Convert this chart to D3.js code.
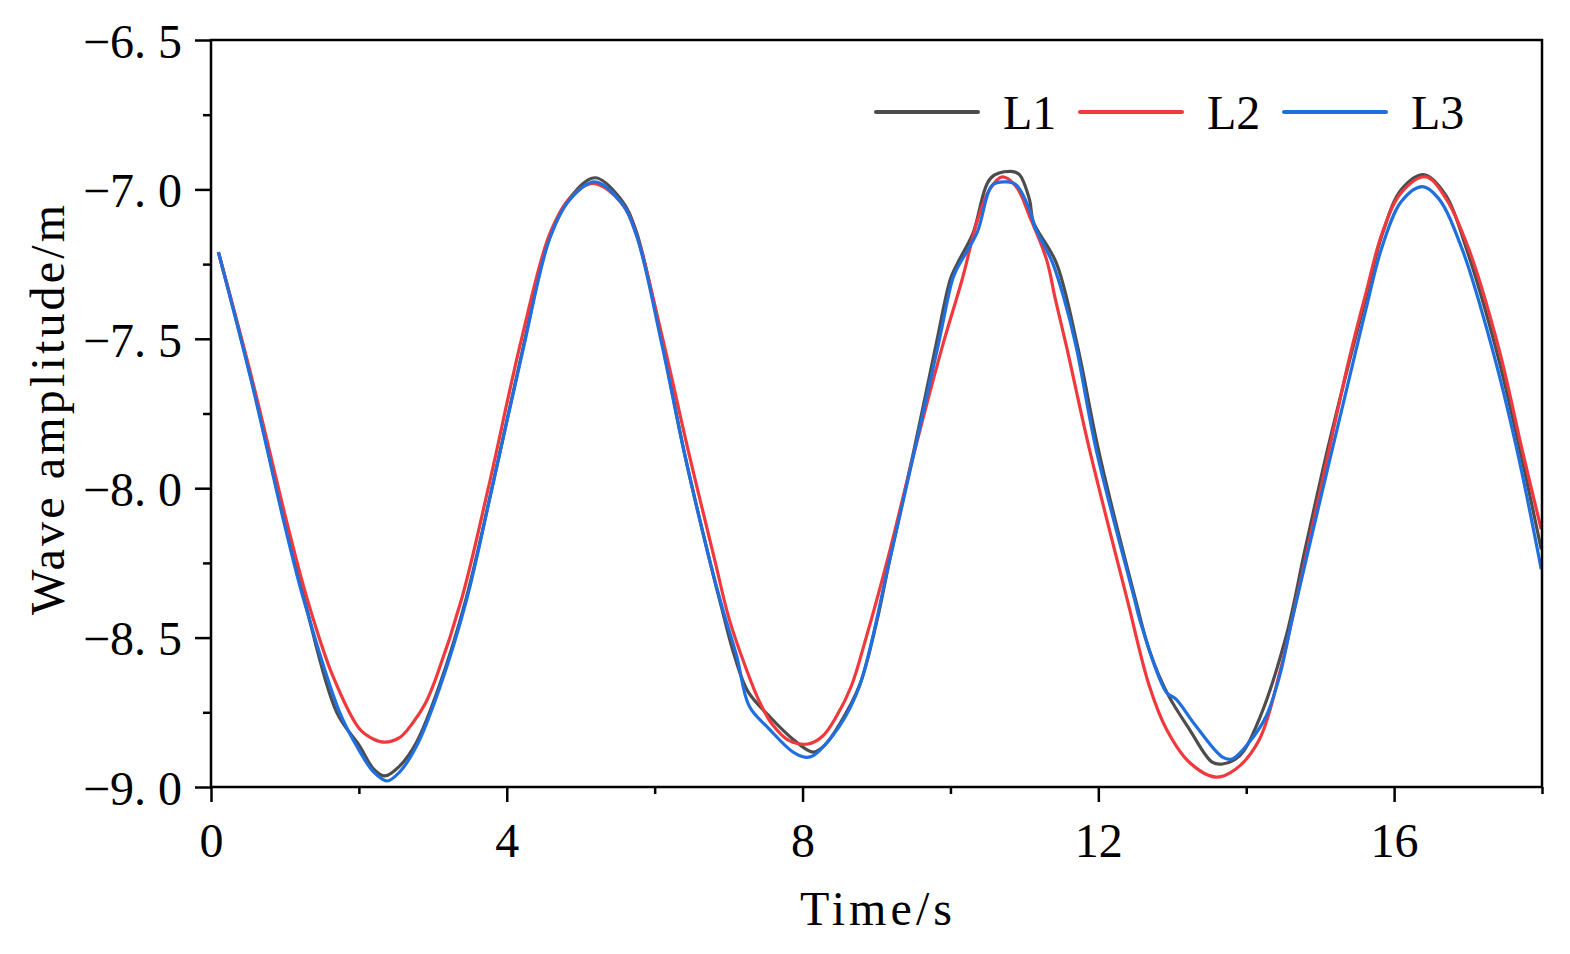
<!DOCTYPE html>
<html>
<head>
<meta charset="utf-8">
<script src="https://cdn.jsdelivr.net/npm/d3@7"></script>
<style>
  body { margin: 0; background: #fff; }
  text { font-family: "Liberation Serif", "Times New Roman", serif; fill: #000; }
</style>
</head>
<body>
<div id="chart"></div>
<script>
// L1
const t1 = [0.1, 0.54, 1.01, 1.25, 1.70, 2.01, 2.2, 2.35, 2.55, 2.78, 3.09, 3.45, 3.80, 4.22, 4.58, 4.85, 5.19,
  5.55, 5.75, 6.09, 6.40, 6.74, 6.91, 7.08, 7.26, 7.55, 7.87, 8.14, 8.30, 8.50, 8.77, 9.0, 9.18, 9.5, 9.80,
  10.0, 10.1, 10.3, 10.55, 10.82, 10.93, 11.07, 11.12, 11.43, 11.72, 12.0, 12.5, 12.7, 12.94, 13.23, 13.54,
  13.68, 13.91, 14.18, 14.54, 14.8, 15.1, 15.39, 15.62, 15.84, 16.1, 16.41, 16.7, 16.98, 17.38, 17.70, 17.99];
const v1 = [-7.21, -7.63, -8.13, -8.36, -8.75, -8.863, -8.94, -8.963, -8.93, -8.85, -8.66, -8.37, -8.0, -7.53, -7.16, -7.03, -6.961,
  -7.035, -7.14, -7.50, -7.88, -8.238, -8.405, -8.562, -8.68, -8.763, -8.84, -8.883, -8.86, -8.79, -8.66, -8.45, -8.238, -7.88, -7.526,
  -7.30, -7.245, -7.15, -6.961, -6.94, -6.95, -7.035, -7.108, -7.245, -7.526, -7.87, -8.37, -8.55, -8.69, -8.806, -8.917,
  -8.923, -8.896, -8.77, -8.495, -8.20, -7.87, -7.58, -7.36, -7.15, -7.0, -6.951, -7.02, -7.20, -7.536, -7.87, -8.205];

// L2
const t2 = [0.1, 0.54, 1.05, 1.30, 1.65, 2.01, 2.2, 2.35, 2.55, 2.73, 2.9, 3.05, 3.39, 3.75, 4.2, 4.58, 4.85, 5.17,
  5.55, 5.75, 6.09, 6.45, 6.81, 7.01, 7.24, 7.42, 7.59, 7.82, 8.07, 8.27, 8.46, 8.66, 8.86, 9.15, 9.5, 9.89,
  10.16, 10.37, 10.53, 10.70, 10.89, 11.07, 11.30, 11.42, 11.57, 11.88, 12.39, 12.69, 12.92, 13.23, 13.59,
  13.86, 14.18, 14.45, 14.7, 15.0, 15.39, 15.62, 15.84, 16.1, 16.43, 16.7, 17.01, 17.42, 17.73, 17.99];
const v2 = [-7.21, -7.62, -8.138, -8.37, -8.63, -8.806, -8.84, -8.85, -8.835, -8.785, -8.72, -8.63, -8.37, -8.0, -7.50, -7.15, -7.03, -6.98,
  -7.045, -7.15, -7.48, -7.87, -8.238, -8.44, -8.606, -8.716, -8.79, -8.845, -8.856, -8.83, -8.763, -8.662, -8.50, -8.238, -7.89, -7.526,
  -7.30, -7.10, -7.0, -6.958, -6.991, -7.09, -7.235, -7.369, -7.526, -7.87, -8.372, -8.662, -8.806, -8.917, -8.967,
  -8.94, -8.84, -8.62, -8.35, -8.01, -7.57, -7.346, -7.145, -7.01, -6.958, -7.03, -7.20, -7.536, -7.87, -8.138];

// L3
const t3 = [0.1, 0.54, 1.01, 1.25, 1.74, 2.01, 2.2, 2.38, 2.55, 2.78, 3.09, 3.46, 3.80, 4.22, 4.58, 4.85, 5.19,
  5.55, 5.75, 6.09, 6.40, 6.74, 6.92, 7.11, 7.28, 7.55, 7.87, 8.03, 8.14, 8.50, 8.77, 9.18, 9.5, 9.83,
  10.03, 10.1, 10.36, 10.57, 10.76, 10.89, 11.07, 11.14, 11.38, 11.54, 11.70, 11.97, 12.49, 12.56, 12.92, 13.05,
  13.32, 13.68, 13.81, 14.04, 14.27, 14.45, 14.62, 15.0, 15.39, 15.62, 15.84, 16.1, 16.38, 16.6, 16.92, 17.33, 17.66, 17.99];
const v3 = [-7.21, -7.636, -8.138, -8.37, -8.75, -8.88, -8.95, -8.98, -8.95, -8.863, -8.67, -8.37, -8.0, -7.536, -7.165, -7.035, -6.975,
  -7.045, -7.15, -7.51, -7.88, -8.238, -8.405, -8.562, -8.73, -8.806, -8.883, -8.90, -8.896, -8.796, -8.662, -8.238, -7.89, -7.526,
  -7.30, -7.26, -7.145, -6.985, -6.975, -6.985, -7.068, -7.125, -7.245, -7.369, -7.526, -7.87, -8.372, -8.44, -8.683, -8.706,
  -8.796, -8.90, -8.906, -8.85, -8.763, -8.63, -8.44, -8.04, -7.636, -7.40, -7.19, -7.04, -6.991, -7.03, -7.20, -7.536, -7.87, -8.271];

const seriesNames = ["L1", "L2", "L3"];
const seriesColors = ["#4d4d4d", "#f0393c", "#1f6fde"];
const xMajor = [0, 4, 8, 12, 16];
const xMinor = [2, 6, 10, 14, 18];
const yMajor = [-9.0, -8.5, -8.0, -7.5, -7.0, -6.5];
const yMinor = [-8.75, -8.25, -7.75, -7.25, -6.75];

const width = 1570, height = 954;
const margin = { left: 211, right: 1542, top: 40, bottom: 787 };

const svg = d3.select("#chart").append("svg")
  .attr("width", width)
  .attr("height", height);

svg.append("rect").attr("width", width).attr("height", height).attr("fill", "#fff");

const x = d3.scaleLinear().domain([0, 18]).range([margin.left, margin.right]);
const y = d3.scaleLinear().domain([-9, -6.5]).range([margin.bottom, margin.top]);

const fmt = d => d.toFixed(1).replace(".", ". ").replace("-", "\u2212");

// curves
const line = d3.line()
  .x(d => x(d[0]))
  .y(d => y(d[1]))
  .curve(d3.curveCatmullRom.alpha(0.5));

const series = [d3.zip(t1, v1), d3.zip(t2, v2), d3.zip(t3, v3)];

const plot = svg.append("g");
series.forEach((s, i) => {
  plot.append("path")
    .datum(s)
    .attr("fill", "none")
    .attr("stroke", seriesColors[i])
    .attr("stroke-width", 3.2)
    .attr("stroke-linejoin", "round")
    .attr("d", line);
});

// axes
const xAxis = svg.append("g")
  .attr("transform", `translate(0,${margin.bottom})`)
  .call(d3.axisBottom(x).tickValues(xMajor).tickSize(15).tickFormat(d3.format("d")));
svg.append("g")
  .attr("transform", `translate(0,${margin.bottom})`)
  .call(d3.axisBottom(x).tickValues(xMinor).tickSize(7).tickFormat(""));

const yAxis = svg.append("g")
  .attr("transform", `translate(${margin.left},0)`)
  .call(d3.axisLeft(y).tickValues(yMajor).tickSize(16).tickFormat(fmt));
svg.append("g")
  .attr("transform", `translate(${margin.left},0)`)
  .call(d3.axisLeft(y).tickValues(yMinor).tickSize(8).tickFormat(""));

svg.selectAll(".domain").remove();
svg.selectAll(".tick line").attr("stroke", "#000").attr("stroke-width", 2.5);

xAxis.selectAll("text")
  .attr("y", 0)
  .attr("dy", 0)
  .attr("transform", "translate(0,70)")
  .style("font-size", "48px")
  .style("font-family", "Liberation Serif");

yAxis.selectAll("text")
  .attr("x", -29)
  .attr("dy", "0.36em")
  .style("font-size", "48px")
  .style("font-family", "Liberation Serif");

// frame
svg.append("rect")
  .attr("x", margin.left)
  .attr("y", margin.top)
  .attr("width", margin.right - margin.left)
  .attr("height", margin.bottom - margin.top)
  .attr("fill", "none")
  .attr("stroke", "#000")
  .attr("stroke-width", 2.5);

// titles
svg.append("text")
  .attr("x", 876)
  .attr("y", 925)
  .attr("text-anchor", "middle")
  .attr("textLength", 152)
  .attr("lengthAdjust", "spacing")
  .style("font-size", "48px")
  .text("Time/s");

svg.append("text")
  .attr("transform", "translate(64,410) rotate(-90)")
  .attr("text-anchor", "middle")
  .attr("textLength", 410)
  .attr("lengthAdjust", "spacing")
  .style("font-size", "48px")
  .text("Wave amplitude/m");

// legend
const legend = svg.append("g");
seriesNames.forEach((name, i) => {
  const lx = 876 + i * 204;
  legend.append("line")
    .attr("x1", lx).attr("x2", lx + 102)
    .attr("y1", 112).attr("y2", 112)
    .attr("stroke", seriesColors[i])
    .attr("stroke-width", 4)
    .attr("stroke-linecap", "round");
  legend.append("text")
    .attr("x", lx + 127)
    .attr("y", 129)
    .style("font-size", "48px")
    .text(name);
});
</script>
</body>
</html>
